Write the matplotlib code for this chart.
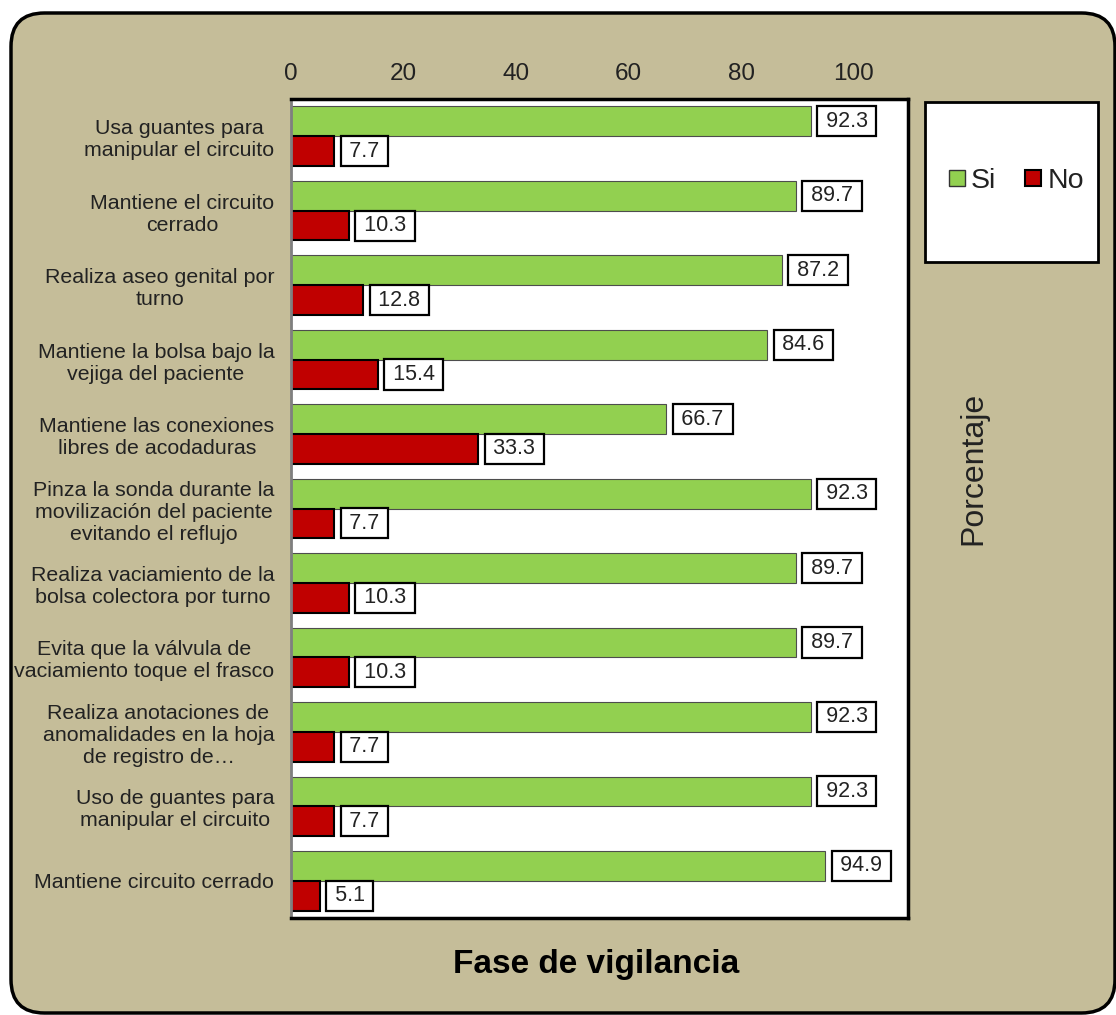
import matplotlib.pyplot as plt
from matplotlib.patches import FancyBboxPatch, Rectangle
from matplotlib.lines import Line2D
import numpy as np

plt.rcParams['font.family'] = ['Liberation Sans', 'DejaVu Sans']

# datos (de arriba hacia abajo)
categorias = [
    "Usa guantes para\nmanipular el circuito",
    "Mantiene el circuito\ncerrado",
    "Realiza aseo genital por\nturno",
    "Mantiene la bolsa bajo la\nvejiga del paciente",
    "Mantiene las conexiones\nlibres de acodaduras",
    "Pinza la sonda durante la\nmovilización del paciente\nevitando el reflujo",
    "Realiza vaciamiento de la\nbolsa colectora por turno",
    "Evita que la válvula de\nvaciamiento toque el frasco",
    "Realiza anotaciones de\nanomalidades en la hoja\nde registro de…",
    "Uso de guantes para\nmanipular el circuito",
    "Mantiene circuito cerrado",
]
si = [92.3, 89.7, 87.2, 84.6, 66.7, 92.3, 89.7, 89.7, 92.3, 92.3, 94.9]
no = [7.7, 10.3, 12.8, 15.4, 33.3, 7.7, 10.3, 10.3, 7.7, 7.7, 5.1]
ticks_x = [0, 20, 40, 60, 80, 100]

verde = '#92D050'
rojo = '#C00000'
fondo = '#C5BD99'
texto = '#222222'

fig = plt.figure(figsize=(11.16, 10.15), dpi=100, facecolor='white')

# marco redondeado del grafico
W, H = 1116, 1015
marco = FancyBboxPatch((11 / W, 2 / H), 1104 / W, 1000 / H,
                       boxstyle="round,pad=0,rounding_size=0.03",
                       transform=fig.transFigure, facecolor=fondo,
                       edgecolor='black', linewidth=2.5, mutation_aspect=W / H,
                       zorder=-10)
fig.patches.append(marco)

ax = fig.add_axes([291 / W, 1 - 918 / H, (908 - 291) / W, (918 - 99) / H])
ax.set_facecolor('white')

y = np.arange(len(categorias))
h = 0.40
ax.barh(y - h / 2, si, height=h, color=verde, edgecolor='#4d4d4d', linewidth=0.8)
ax.barh(y + h / 2, no, height=h, color=rojo, edgecolor='black', linewidth=1.5)

# etiquetas de valor en recuadro blanco
caja = dict(boxstyle='square,pad=0.21', facecolor='white', edgecolor='black', linewidth=1.6)
for i in range(len(categorias)):
    ax.annotate(f"\u2009{si[i]:.1f}\u2009", (si[i], y[i] - h / 2), xytext=(11, 0),
                textcoords='offset pixels', ha='left', va='center',
                fontsize=15.5, color=texto, bbox=caja)
    ax.annotate(f"\u2009{no[i]:.1f}\u2009", (no[i], y[i] + h / 2), xytext=(11, 0),
                textcoords='offset pixels', ha='left', va='center',
                fontsize=15.5, color=texto, bbox=caja)

ax.set_xlim(0, 109.6)
ax.set_ylim(len(categorias) - 0.5, -0.5)
ax.xaxis.tick_top()
ax.set_xticks(ticks_x)
ax.tick_params(axis='x', length=0, pad=10, labelsize=17.5, labelcolor=texto)
ax.set_yticks(y)
ax.set_yticklabels(categorias)
ax.tick_params(axis='y', length=0, pad=12, labelsize=15.4, labelcolor=texto)
for lab in ax.get_yticklabels():
    lab.set_multialignment('center')

for s in ['top', 'right', 'bottom']:
    ax.spines[s].set_linewidth(2.5)
    ax.spines[s].set_color('black')
ax.spines['left'].set_linewidth(2)
ax.spines['left'].set_color('#7f7f7f')

# leyenda en su propio recuadro
fig.patches.append(Rectangle((925 / W, 1 - 262 / H), 173 / W, 160 / H,
                             transform=fig.transFigure, facecolor='white',
                             edgecolor='black', linewidth=2, zorder=-5))
handles = [Line2D([], [], marker='s', linestyle='', markersize=11,
                  markerfacecolor=verde, markeredgecolor='#333333', markeredgewidth=1),
           Line2D([], [], marker='s', linestyle='', markersize=11,
                  markerfacecolor=rojo, markeredgecolor='black', markeredgewidth=1.5)]
fig.legend(handles, ['Si', 'No'], loc='center', bbox_to_anchor=(1016 / W, 1 - 181 / H),
           ncol=2, frameon=False, fontsize=20.5, handlelength=0.6, handletextpad=0.2,
           columnspacing=1.0, labelcolor=texto)

fig.text(973 / W, 1 - 468 / H, 'Porcentaje', rotation=90, ha='center', va='center',
         fontsize=23, color=texto)
fig.text(596 / W, 1 - 965 / H, 'Fase de vigilancia', ha='center', va='center',
         fontsize=24, fontweight='bold', color='black')

fig.savefig('out.png', dpi=100, facecolor='white')
